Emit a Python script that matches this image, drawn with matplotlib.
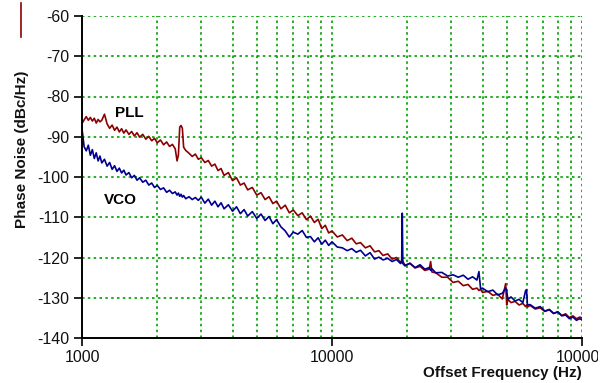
import matplotlib
matplotlib.use("Agg")
import matplotlib.pyplot as plt
from matplotlib.transforms import Bbox, TransformedBbox

plt.rcParams['font.family'] = ['Liberation Sans', 'DejaVu Sans']

# offset frequency (Hz)
freq = [1000, 1020, 1040, 1060, 1080, 1100, 1120, 1140, 1160, 1180,
        1200, 1230, 1260, 1290, 1320, 1350, 1380, 1410, 1440, 1470,
        1500, 1540, 1580, 1620, 1660, 1700, 1750, 1800, 1850, 1900,
        1950, 2000, 2060, 2120, 2180, 2240, 2300, 2360, 2400, 2430,
        2460, 2490, 2520, 2550, 2600, 2680, 2760, 2840, 2920, 3000,
        3100, 3200, 3300, 3400, 3500, 3600, 3700, 3850, 4000, 4150,
        4300, 4450, 4600, 4800, 5000, 5200, 5400, 5600, 5800, 6000,
        6250, 6500, 6750, 7000, 7300, 7600, 7900, 8200, 8500, 8800,
        9100, 9400, 9700, 10000, 10500, 11000, 11500, 12000, 12500, 13000,
        13600, 14200, 14800, 15400, 16000, 16700, 17400, 18100, 18800, 19000,
        19100, 19200, 19600, 20500, 21500, 22500, 23500, 24500, 24800, 25100,
        26000, 27500, 29000, 30500, 32000, 33500, 35000, 36500, 38000, 38700,
        39300, 40000, 42000, 44000, 46000, 48000, 49500, 50000, 50500, 52000,
        54000, 56000, 58000, 59500, 60000, 60500, 62000, 65000, 68000, 71000,
        74000, 77000, 80000, 83000, 86000, 89000, 92000, 95000, 98000, 100000]

pll = [-86.7, -85.8, -85.0, -85.9, -85.2, -86.1, -85.4, -86.6, -85.7, -86.3,
       -85.9, -84.4, -86.8, -87.9, -87.1, -88.4, -87.6, -88.8, -88.0, -89.1,
       -88.3, -89.4, -88.7, -89.8, -89.0, -90.1, -89.4, -90.6, -89.9, -91.0,
       -90.4, -91.5, -90.8, -92.0, -91.3, -92.4, -91.9, -93.0, -96.0, -94.5,
       -87.6, -87.2, -87.9, -92.6, -93.4, -94.1, -94.9, -94.3, -95.6, -95.2,
       -96.4, -95.9, -97.3, -96.8, -98.4, -97.9, -99.6, -98.9, -100.9, -100.2,
       -102.0, -101.5, -103.2, -102.6, -104.5, -103.9, -105.6, -104.9, -106.6, -106.0,
       -107.9, -107.0, -108.9, -108.2, -109.6, -108.9, -110.6, -109.7, -111.3, -110.5,
       -112.8, -112.0, -113.9, -113.4, -114.9, -114.4, -115.8, -115.2, -116.6, -116.3,
       -117.6, -117.1, -118.6, -118.3, -119.5, -119.1, -120.4, -120.0, -121.2, -120.8,
       -121.4, -121.0, -121.9, -121.5, -122.6, -122.2, -123.2, -122.9, -121.0, -123.6,
       -123.8, -124.9, -124.9, -126.2, -125.9, -127.0, -126.7, -127.9, -127.6, -128.2,
       -127.9, -128.7, -128.4, -129.4, -129.1, -130.3, -126.5, -131.8, -130.4, -131.2,
       -130.9, -131.8, -131.4, -132.2, -131.8, -132.3, -131.9, -132.8, -132.5, -133.4,
       -133.0, -133.9, -133.5, -134.4, -134.0, -134.9, -134.5, -135.2, -134.8, -135.0]

vco = [-88.0, -92.5, -93.5, -92.1, -94.6, -93.2, -95.4, -94.0, -96.0, -94.8,
       -96.5, -95.6, -97.3, -96.4, -98.1, -97.2, -98.6, -97.8, -99.0, -98.3,
       -99.5, -98.9, -100.2, -99.6, -100.8, -100.2, -101.3, -100.8, -102.0, -101.5,
       -102.6, -102.1, -103.1, -102.7, -103.8, -103.3, -104.1, -103.7, -104.5, -104.0,
       -104.8, -104.3, -105.0, -104.6, -105.4, -104.9, -105.6, -105.1, -105.8, -105.0,
       -106.5, -105.5, -107.0, -106.0, -107.4, -106.4, -107.9, -106.9, -108.5, -107.4,
       -109.1, -108.1, -109.7, -108.6, -110.3, -109.2, -110.8, -109.8, -111.6, -110.6,
       -112.4, -113.4, -114.9, -113.7, -114.2, -113.3, -115.0, -114.8, -116.1, -115.1,
       -116.7, -115.7, -117.0, -116.1, -117.4, -117.6, -118.3, -117.8, -118.7, -118.2,
       -119.6, -118.8, -120.4, -119.9, -120.6, -120.2, -121.0, -120.5, -121.5, -120.9,
       -109.0, -121.5, -122.1, -121.4, -122.5, -121.8, -122.9, -122.5, -123.2, -122.8,
       -123.8, -123.7, -124.6, -124.3, -124.9, -124.4, -125.4, -124.8, -125.6, -123.5,
       -127.8, -127.6, -128.5, -128.1, -129.3, -128.9, -127.6, -128.3, -130.4, -129.8,
       -130.8, -130.4, -131.2, -128.2, -128.0, -131.8, -131.7, -132.6, -132.2, -133.3,
       -132.9, -133.9, -133.5, -134.5, -134.3, -135.2, -134.8, -135.6, -135.2, -135.5]

x_ticks = [1000, 10000, 100000]
y_ticks = [-140, -130, -120, -110, -100, -90, -80, -70, -60]

fig = plt.figure(figsize=(6.10, 3.83), dpi=100)
ax = fig.add_axes([82 / 610, 1 - 338 / 383, 500 / 610, 322 / 383])

ax.plot(freq, pll, color='#8b0000', lw=1.2)
ax.plot(freq, vco, color='#000090', lw=1.2)

ax.set_xscale('log')
ax.set_xlim(1000, 100000)
ax.set_ylim(-140, -60)
ax.set_xticks(x_ticks)
ax.set_xticklabels([str(t) for t in x_ticks])
ax.set_yticks(y_ticks)
ax.set_yticklabels([str(t) for t in y_ticks])
ax.minorticks_on()
ax.yaxis.set_tick_params(which='minor', left=False)
ax.xaxis.set_tick_params(which='minor', bottom=False)
ax.xaxis.set_minor_formatter(plt.NullFormatter())

ax.grid(True, which='both', axis='x', color='#00a000', ls=(0, (1.5, 2)), lw=1.2)
ax.grid(True, which='major', axis='y', color='#00a000', ls=(0, (1.5, 2)), lw=1.2)
ax.set_axisbelow(True)

for s in ['top', 'right']:
    ax.spines[s].set_visible(False)
for s in ['left', 'bottom']:
    ax.spines[s].set_color('black')
    ax.spines[s].set_linewidth(1.4)

ax.tick_params(axis='both', which='major', direction='out', length=6, width=1.2,
               labelsize=11.5, colors='black', labelcolor='#111111', pad=3)

ax.text(1550, -84.2, 'PLL', fontsize=11, fontweight='bold', ha='center', va='center')
ax.text(1420, -105.8, 'VCO', fontsize=11, fontweight='bold', ha='center', va='center')

fig.text(22 / 610, 1 - 149 / 383, 'Phase Noise (dBc/Hz)', rotation=90, fontsize=11,
         fontweight='bold', ha='center', va='center', color='#111111')
fig.text(582 / 610, 1 - 373 / 383, 'Offset Frequency (Hz)', fontsize=11,
         fontweight='bold', ha='right', va='center', color='#111111')

# small stray legend stroke at top left
fig.add_artist(plt.Line2D([21 / 610, 21 / 610], [1 - 3 / 383, 1 - 37 / 383],
                          color='#8b0000', lw=1.2))

fig.canvas.draw()
clip = TransformedBbox(Bbox([[0, 0], [598 / 610, 1]]), fig.transFigure)
last = ax.get_xticklabels()[-1]
last.set_clip_box(clip)
last.set_clip_on(True)

fig.savefig('out.png', dpi=100)
